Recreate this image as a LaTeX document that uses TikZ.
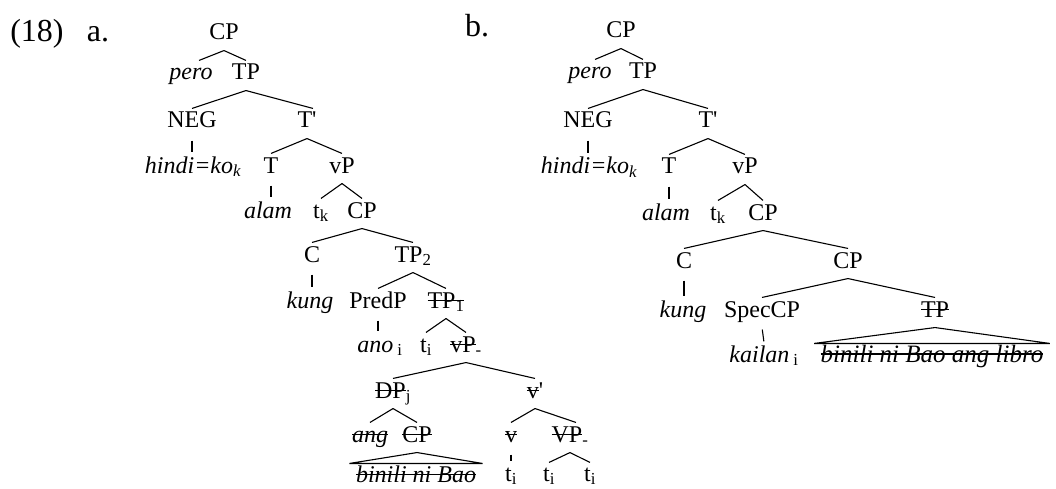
\documentclass[tikz,border=0pt]{standalone}
\usepackage{fontspec}
\setmainfont{Liberation Serif}
\newcommand{\struck}[1]{\setbox0=\hbox{#1}\rlap{\rule[.3em]{\wd0}{.045em}}\box0}

\begin{document}
\begin{tikzpicture}[x=1pt,y=-1pt,line width=1.1pt,
    cat/.style={anchor=base,inner xsep=0pt,inner ysep=4pt,text height=15pt,text depth=6pt,font=\fontsize{24}{28}\selectfont},
    leaf/.style={cat,text depth=0pt,inner ysep=3pt},
    roof/.style={leaf,inner xsep=6pt,font=\fontsize{25}{28}\selectfont},
    lbl/.style={anchor=base,inner sep=0pt,font=\fontsize{32}{36}\selectfont},
    tick/.style={shorten <=2pt,shorten >=1pt}]
    \useasboundingbox (0,0) rectangle (1056,489);

    \node[lbl] (exnum) at (37,42) {(18)};
    \node[lbl] (exa) at (98,42) {a.};
    \node[lbl] (exb) at (477,37) {b.};

    % tree a
    \node[cat] (cpA) at (224,40) {CP};
    \node[cat] (peroA) at (191,80) {\textit{pero}};
    \node[cat] (tpA) at (246,80) {TP};
    \node[cat] (negA) at (192,128) {NEG};
    \node[cat] (tbarA) at (307,128) {T\textquotesingle};
    \node[cat] (hindiA) at (193,173) {\textit{hindi=ko\textsubscript{k}}};
    \node[cat] (tA) at (271,173) {T};
    \node[cat] (vpA) at (342,173) {vP};
    \node[cat] (alamA) at (268,218) {\textit{alam}};
    \node[cat] (tkA) at (321,218) {t\textsubscript{k}};
    \node[cat] (cpA2) at (362,218) {CP};
    \node[cat] (cA) at (312,262) {C};
    \node[cat] (tptwoA) at (413,262) {TP\textsubscript{2}};
    \node[cat] (kungA) at (310,308) {\textit{kung}};
    \node[cat] (predpA) at (378,308) {PredP};
    \node[cat] (tponeA) at (446,308) {\struck{TP\textsubscript{1}}};
    \node[cat] (anoA) at (380,352) {\textit{ano}\,\textsubscript{i}};
    \node[cat] (tiA) at (426,352) {t\textsubscript{i}};
    \node[cat] (vpmA) at (466,352) {\struck{vP}\textsubscript{-}};
    \node[cat] (dpA) at (393,398) {\struck{DP}\textsubscript{j}};
    \node[cat] (vbarA) at (535,398) {\struck{v}\textquotesingle};
    \node[cat] (angA) at (370,442) {\struck{\textit{ang}}};
    \node[cat] (cpA3) at (417,442) {\struck{CP}};
    \node[cat] (vA) at (511,442) {\struck{v}};
    \node[cat] (vbigA) at (570,442) {\struck{VP}\textsubscript{-}};
    \node[roof,font=\fontsize{24}{28}\selectfont] (biniliA) at (416,482) {\struck{\textit{binili ni Bao}}};
    \node[leaf] (tiA2) at (511,481) {t\textsubscript{i}};
    \node[leaf] (tiA3) at (549,481) {t\textsubscript{i}};
    \node[leaf] (tiA4) at (590,481) {t\textsubscript{i}};

    \draw (cpA.south) -- ([xshift=8pt]peroA.north) (cpA.south) -- (tpA.north);
    \draw (tpA.south) -- (negA.north) (tpA.south) -- ([xshift=6pt]tbarA.north);
    \draw[tick] (negA.south) -- (negA.south |- hindiA.north);
    \draw (tbarA.south) -- (tA.north) (tbarA.south) -- (vpA.north);
    \draw[tick] (tA.south) -- (tA.south |- alamA.north);
    \draw (vpA.south) -- (tkA.north) (vpA.south) -- (cpA2.north);
    \draw (cpA2.south) -- (cA.north) (cpA2.south) -- (tptwoA.north);
    \draw[tick] (cA.south) -- (cA.south |- kungA.north);
    \draw (tptwoA.south) -- (predpA.north) (tptwoA.south) -- (tponeA.north);
    \draw[tick] (predpA.south) -- (predpA.south |- anoA.north);
    \draw (tponeA.south) -- (tiA.north) (tponeA.south) -- (vpmA.north);
    \draw (vpmA.south) -- (dpA.north) (vpmA.south) -- (vbarA.north);
    \draw (dpA.south) -- (angA.north) (dpA.south) -- (cpA3.north);
    \draw (cpA3.south) -- (biniliA.north west) -- (biniliA.north east) -- cycle;
    \draw (vbarA.south) -- (vA.north) (vbarA.south) -- ([xshift=6pt]vbigA.north);
    \draw[tick] (vA.south) -- (vA.south |- tiA2.north);
    \draw (vbigA.south) -- (tiA3.north) (vbigA.south) -- (tiA4.north);

    % tree b
    \node[cat] (cpB) at (621,38) {CP};
    \node[cat] (peroB) at (590,79) {\textit{pero}};
    \node[cat] (tpB) at (643,79) {TP};
    \node[cat] (negB) at (588,128) {NEG};
    \node[cat] (tbarB) at (708,128) {T\textquotesingle};
    \node[cat] (hindiB) at (589,174) {\textit{hindi=ko\textsubscript{k}}};
    \node[cat] (tB) at (669,174) {T};
    \node[cat] (vpB) at (745,174) {vP};
    \node[cat] (alamB) at (666,220) {\textit{alam}};
    \node[cat] (tkB) at (718,220) {t\textsubscript{k}};
    \node[cat] (cpB2) at (763,220) {CP};
    \node[cat] (cB) at (684,268) {C};
    \node[cat] (cpB3) at (848,268) {CP};
    \node[cat] (kungB) at (683,317) {\textit{kung}};
    \node[cat] (speccpB) at (762,317) {SpecCP};
    \node[cat] (tpB2) at (935,317) {\struck{TP}};
    \node[cat] (kailanB) at (764,362) {\textit{kailan}\,\textsubscript{i}};
    \node[roof] (biniliB) at (932,362) {\struck{\textit{binili ni Bao ang libro}}};

    \draw (cpB.south) -- ([xshift=5pt]peroB.north) (cpB.south) -- (tpB.north);
    \draw (tpB.south) -- (negB.north) (tpB.south) -- (tbarB.north);
    \draw[tick] (negB.south) -- (negB.south |- hindiB.north);
    \draw (tbarB.south) -- (tB.north) (tbarB.south) -- (vpB.north);
    \draw[tick] (tB.south) -- (tB.south |- alamB.north);
    \draw (vpB.south) -- (tkB.north) (vpB.south) -- (cpB2.north);
    \draw (cpB2.south) -- (cB.north) (cpB2.south) -- (cpB3.north);
    \draw[tick] (cB.south) -- (cB.south |- kungB.north);
    \draw (cpB3.south) -- (speccpB.north) (cpB3.south) -- (tpB2.north);
    \draw[tick] (speccpB.south) -- (kailanB.north);
    \draw (tpB2.south) -- (biniliB.north west) -- (biniliB.north east) -- cycle;
\end{tikzpicture}
\end{document}
